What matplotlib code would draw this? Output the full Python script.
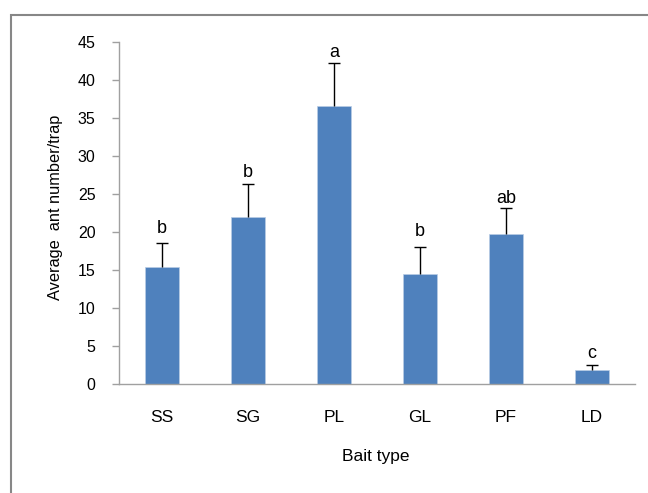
import matplotlib.pyplot as plt
from matplotlib.patches import Rectangle

plt.rcParams['font.family'] = ['Liberation Sans', 'DejaVu Sans']

bait_types = ['SS', 'SG', 'PL', 'GL', 'PF', 'LD']
mean_ants = [15.35, 22.0, 36.5, 14.5, 19.7, 1.8]
std_err = [3.2, 4.3, 5.75, 3.5, 3.45, 0.75]
letters = ['b', 'b', 'a', 'b', 'ab', 'c']
# gap (points) between the top of each error bar and its letter
letter_gap = [6.8, 5.3, 3.9, 8.1, 3.6, 4.6]

W, H = 648, 493
fig = plt.figure(figsize=(W / 100, H / 100), dpi=100)

# grey frame around the chart area (runs off the right and bottom edges)
fig.patches.append(Rectangle((11 / W, -0.1), 1.1, 1.1 - 15 / H,
                             transform=fig.transFigure, fill=False,
                             edgecolor='#878787', linewidth=1.5))

ax = fig.add_axes([119 / W, 1 - 384 / H, (635 - 119) / W, (384 - 41.7) / H])
x = range(len(bait_types))
ax.bar(x, mean_ants, width=0.39, color='#4f81bd', edgecolor='#b9cde5', linewidth=0.5, zorder=2)
_, caps, _ = ax.errorbar(x, mean_ants, yerr=[[0] * len(std_err), std_err], fmt='none',
                         ecolor='black', elinewidth=1, capsize=4.2, capthick=1, zorder=3)
caps[0].set_visible(False)  # only the upper cap
for xi, m, e, lab, g in zip(x, mean_ants, std_err, letters, letter_gap):
    ax.annotate(lab, (xi, m + e), xytext=(0, g), textcoords='offset points',
                ha='center', va='baseline', fontsize=13)

ax.set_xlim(-0.5, 5.5)
ax.set_ylim(0, 45)
ax.set_yticks(range(0, 46, 5))
ax.set_xticks(list(x))
ax.set_xticklabels(bait_types)
ax.tick_params(axis='y', direction='out', length=5, width=1, color='#a0a0a0', pad=12, labelsize=11.5)
ax.tick_params(axis='x', length=0, pad=19, labelsize=12.5)
for side in ['top', 'right']:
    ax.spines[side].set_visible(False)
for side in ['left', 'bottom']:
    ax.spines[side].set_color('#a0a0a0')
    ax.spines[side].set_linewidth(1)

fig.text(56 / W, 1 - 207 / H, 'Average  ant number/trap', rotation=90,
         ha='center', va='center', fontsize=11.8)
fig.text(376 / W, 1 - 456 / H, 'Bait type', ha='center', va='center', fontsize=12.5)

fig.savefig('out.png', dpi=100)
